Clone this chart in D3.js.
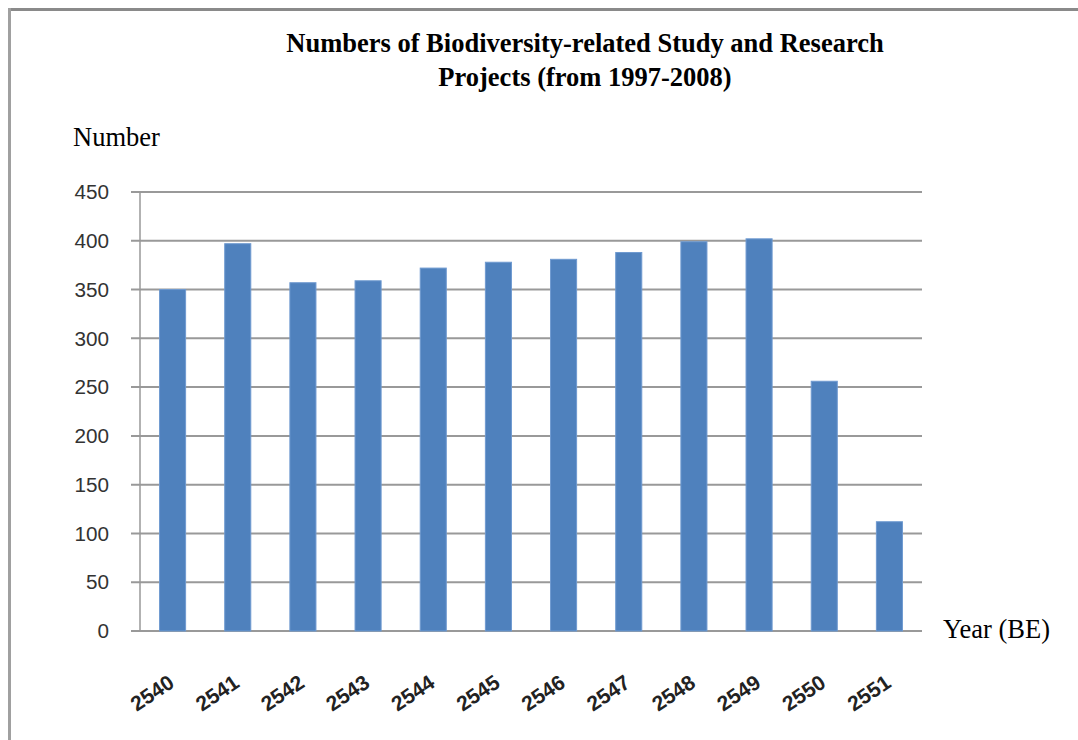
<!DOCTYPE html>
<html><head><meta charset="utf-8">
<script src="https://cdn.jsdelivr.net/npm/d3@7"></script>
<style>body{margin:0;background:#fff}svg{display:block}</style>
</head><body>
<script>
const categories = ["2540","2541","2542","2543","2544","2545","2546","2547","2548","2549","2550","2551"];
const values = [350, 397, 357, 359, 372, 378, 381, 388, 399, 402, 256, 112];
const yTicks = [0, 50, 100, 150, 200, 250, 300, 350, 400, 450];
const titleLines = ["Numbers of Biodiversity-related Study and Research", "Projects (from 1997-2008)"];

const W = 1078, H = 740;
const svg = d3.select("body").append("svg").attr("width", W).attr("height", H);

// frame
svg.append("line").attr("x1", 8).attr("x2", W).attr("y1", 9.5).attr("y2", 9.5).attr("stroke", "#8a8a8a").attr("stroke-width", 3);
svg.append("line").attr("x1", 9.5).attr("x2", 9.5).attr("y1", 8).attr("y2", H).attr("stroke", "#a0a0a0").attr("stroke-width", 3);

const pLeft = 140, pRight = 922, pTop = 192, pBottom = 631;
const x = d3.scaleBand().domain(categories).range([pLeft, pRight]).paddingInner(0.6).paddingOuter(0.3);
const y = d3.scaleLinear().domain([0, 450]).range([pBottom, pTop]);

// gridlines
svg.append("g").selectAll("line").data(yTicks).join("line")
  .attr("x1", pLeft - 9).attr("x2", pRight)
  .attr("y1", d => y(d)).attr("y2", d => y(d))
  .attr("stroke", "#999").attr("stroke-width", 2);

// y axis line
svg.append("line").attr("x1", pLeft).attr("x2", pLeft).attr("y1", pTop).attr("y2", pBottom)
  .attr("stroke", "#999").attr("stroke-width", 1.5);

// bars
svg.append("g").selectAll("rect").data(values).join("rect")
  .attr("x", (d, i) => x(categories[i]))
  .attr("width", x.bandwidth())
  .attr("y", d => y(d))
  .attr("height", d => y(0) - y(d))
  .attr("fill", "#4f81bd")
  .attr("stroke", "#6f9ad0").attr("stroke-width", 1);

// y tick labels
svg.append("g").selectAll("text").data(yTicks).join("text")
  .attr("x", 109).attr("y", d => y(d)).attr("dy", "0.36em")
  .attr("text-anchor", "end")
  .attr("font-family", "Liberation Sans, Arial, sans-serif")
  .attr("font-size", 20).attr("fill", "#333")
  .attr("textLength", d => String(d).length * 11.5).attr("lengthAdjust", "spacingAndGlyphs")
  .text(d => d);

// x tick labels
svg.append("g").selectAll("text").data(categories).join("text")
  .attr("transform", d => `translate(${x(d) + x.bandwidth()/2 + 3},${686}) rotate(-34)`)
  .attr("text-anchor", "end")
  .attr("font-family", "Liberation Sans, Arial, sans-serif")
  .attr("font-size", 21).attr("font-weight", "bold").attr("fill", "#222")
  .text(d => d);

// title
svg.append("g").selectAll("text").data(titleLines).join("text")
  .attr("x", 585).attr("y", (d, i) => 52 + i * 34)
  .attr("text-anchor", "middle")
  .attr("font-family", "Liberation Serif, Times New Roman, serif")
  .attr("font-size", 26.5).attr("font-weight", "bold").attr("fill", "#000")
  .text(d => d);

svg.append("text").attr("x", 73).attr("y", 146)
  .attr("font-family", "Liberation Serif, Times New Roman, serif")
  .attr("font-size", 26.5).attr("fill", "#000").text("Number");

svg.append("text").attr("x", 943).attr("y", 638)
  .attr("font-family", "Liberation Serif, Times New Roman, serif")
  .attr("font-size", 26.5).attr("fill", "#000").text("Year (BE)");
</script>
</body></html>
